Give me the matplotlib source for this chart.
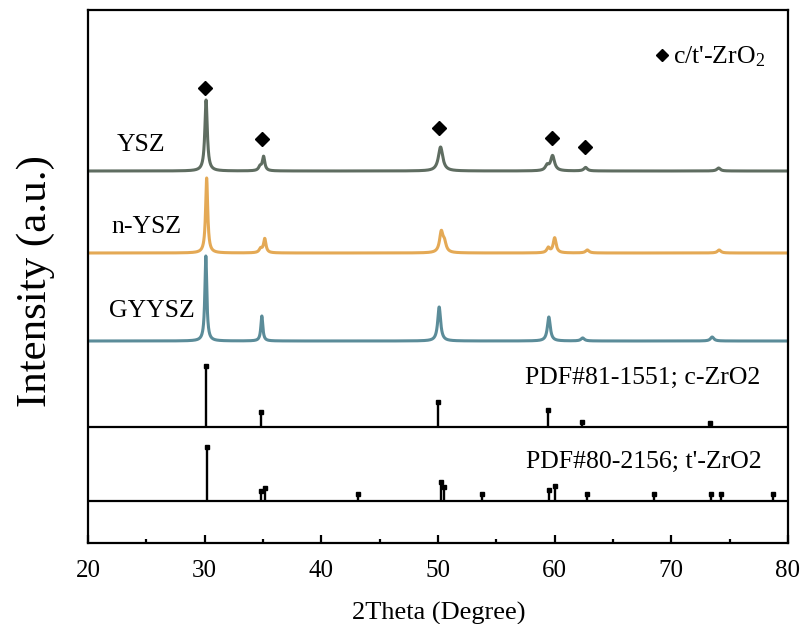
import numpy as np
import matplotlib
matplotlib.use("Agg")
import matplotlib.pyplot as plt

plt.rcParams["font.family"] = ["Liberation Serif", "DejaVu Serif"]
plt.rcParams["mathtext.fontset"] = "custom"
plt.rcParams["mathtext.rm"] = "Liberation Serif"
plt.rcParams["mathtext.it"] = "Liberation Serif:italic"

# ---- measured XRD patterns: peak position (2theta), height, FWHM ----
ysz_pos = [30.12, 34.75, 35.05, 50.22, 59.35, 59.82, 62.65, 74.05]
ysz_h = [71, 4, 14, 24, 5, 15, 3.5, 3]
ysz_w = [0.25, 0.3, 0.25, 0.45, 0.35, 0.4, 0.35, 0.35]

nysz_pos = [30.17, 34.8, 35.15, 50.28, 50.55, 59.45, 60.0, 62.8, 74.1]
nysz_h = [75, 4, 14, 20, 9, 5, 15, 3, 3]
nysz_w = [0.22, 0.3, 0.25, 0.35, 0.35, 0.3, 0.3, 0.35, 0.35]

gyysz_pos = [30.1, 34.9, 50.1, 59.5, 62.4, 73.5]
gyysz_h = [85, 25, 34, 24, 3, 4]
gyysz_w = [0.2, 0.2, 0.3, 0.3, 0.35, 0.35]

# ---- reference cards (stick patterns) ----
pdf81_pos = [30.1, 34.8, 50.0, 59.45, 62.3, 73.35]
pdf81_h = [61, 15, 25, 17, 5, 4]

pdf80_pos = [30.2, 34.8, 35.15, 43.1, 50.25, 50.5, 53.8, 59.5, 60.05,
             62.8, 68.55, 73.4, 74.25, 78.7]
pdf80_h = [54, 10, 13, 7, 19, 14, 7, 11, 15, 7, 7, 7, 7, 7]

# diamond markers for c/t'-ZrO2 reflections
mark_pos = [30.0, 34.9, 50.1, 59.8, 62.6]
mark_y = [455, 404, 415, 405, 396]

labels = ["YSZ", "n-YSZ", "GYYSZ"]
offsets = [372, 290, 202]
colors = ["#5f6d61", "#e4a955", "#5b8c99"]
pdf_labels = ["PDF#81-1551; c-ZrO2", "PDF#80-2156; t'-ZrO2"]
pdf_base = [116, 42]

x_ticks = [20, 30, 40, 50, 60, 70, 80]


def profile(x, pos, h, w):
    y = np.zeros_like(x)
    for p, a, f in zip(pos, h, w):
        g = (f / 2) ** 2
        y += a * g / ((x - p) ** 2 + g)
    return y


fig = plt.figure(figsize=(8, 6.24), dpi=100)
ax = fig.add_axes([88 / 800, 81 / 624, 700 / 800, 533 / 624])

x = np.linspace(20, 80, 6001)
series = [(ysz_pos, ysz_h, ysz_w), (nysz_pos, nysz_h, nysz_w),
          (gyysz_pos, gyysz_h, gyysz_w)]
for (pos, h, w), off, c in zip(series, offsets, colors):
    ax.plot(x, off + profile(x, pos, h, w), color=c, lw=2.2,
            solid_joinstyle="round")

# stick patterns with baselines
for pos, h, base in [(pdf81_pos, pdf81_h, pdf_base[0]),
                     (pdf80_pos, pdf80_h, pdf_base[1])]:
    ax.axhline(base, color="black", lw=1.6)
    ax.vlines(pos, base, np.array(h) + base, color="black", lw=1.7)
    ax.plot(pos, np.array(h) + base, "s", color="black", ms=3.4)

ax.plot(mark_pos, mark_y, "D", color="black", ms=7.5)

# text annotations
ax.text(24.54, 398, labels[0], fontsize=18.5, ha="center", va="center")
ax.text(25.0, 316, labels[1], fontsize=18.5, ha="center", va="center")
ax.text(25.44, 232, labels[2], fontsize=18.5, ha="center", va="center")
ax.text(67.5, 165, pdf_labels[0], fontsize=18.5, ha="center", va="center")
ax.text(67.6, 81, pdf_labels[1], fontsize=18.5, ha="center", va="center")

ax.plot([69.2], [488], "D", color="black", ms=6)
ax.text(70.15, 486, r"c/t'-ZrO$_{2}$", fontsize=18.5, ha="left", va="center")

ax.set_xlim(20, 80)
ax.set_ylim(0, 533)
ax.set_xticks(x_ticks)
ax.set_xticks(np.arange(25, 80, 10), minor=True)
ax.set_yticks([])
ax.tick_params(axis="x", which="major", direction="in", length=6, width=1.6,
               labelsize=18, pad=12)
ax.tick_params(axis="x", which="minor", direction="in", length=3, width=1.6)
for s in ax.spines.values():
    s.set_linewidth(1.6)

ax.set_xlabel("2Theta (Degree)", fontsize=19, va="center")
ax.xaxis.set_label_coords(0.501, -0.133)
ax.set_ylabel("Intensity (a.u.)", fontsize=31, va="center")
ax.yaxis.set_label_coords(-0.075, 0.4916)

fig.savefig("out.png", dpi=100)
